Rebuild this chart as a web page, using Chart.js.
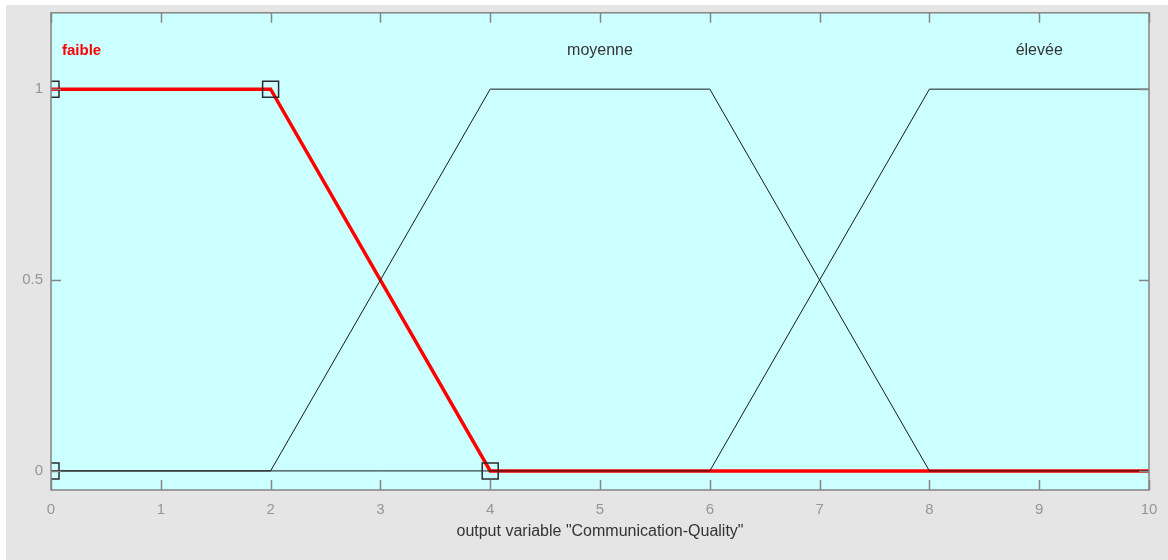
<!DOCTYPE html>
<html>
<head>
<meta charset="utf-8">
<script src="https://cdn.jsdelivr.net/npm/chart.js@4/dist/chart.umd.min.js"></script>
<style>
html,body{margin:0;padding:0;background:#fff;}
#wrap{position:absolute;left:0;top:0;width:1168px;height:560px;}
</style>
</head>
<body>
<div id="wrap"><canvas id="c" width="1168" height="560"></canvas></div>
<script>
// ---- data ----
const xTicks = [0,1,2,3,4,5,6,7,8,9,10];
const yTicks = [0,0.5,1];
const faibleX = [0,2,4,10];
const faibleY = [1,1,0,0];
const moyenneX = [0,2,4,6,8,10];
const moyenneY = [0,0,1,1,0,0];
const eleveeX = [0,6,8,10];
const eleveeY = [0,0,1,1];
const markerX = [0,0,2,4];
const markerY = [0,1,1,0];
const mfNames = ['faible','moyenne','élevée'];
const mfLabelX = [0.1,5,9];
const mfLabelY = [1.1,1.1,1.1];
const xTitle = 'output variable "Communication-Quality"';

const pts = (xs, ys) => xs.map((x,i)=>({x:x,y:ys[i]}));

const FONT = "'Liberation Sans', Arial, Helvetica, sans-serif";

const bgPlugin = {
  id:'bg',
  beforeDraw(chart){
    const ctx = chart.ctx, a = chart.chartArea;
    ctx.save();
    ctx.fillStyle = '#ffffff';
    ctx.fillRect(0,0,chart.width,chart.height);
    ctx.fillStyle = '#e5e5e5';
    ctx.fillRect(6,5,chart.width-6,chart.height-5);
    ctx.fillStyle = '#ccffff';
    ctx.fillRect(a.left,a.top,a.right-a.left,a.bottom-a.top);
    ctx.restore();
  },
  afterDraw(chart){
    const ctx = chart.ctx, a = chart.chartArea;
    const xs = chart.scales.x, ys = chart.scales.y;
    ctx.save();
    ctx.strokeStyle = '#858585';
    ctx.lineWidth = 1.5;
    ctx.beginPath();
    xTicks.forEach(v=>{
      const px = Math.round(xs.getPixelForValue(v))+0.5;
      ctx.moveTo(px,a.bottom); ctx.lineTo(px,a.bottom-10);
      ctx.moveTo(px,a.top); ctx.lineTo(px,a.top+10);
    });
    yTicks.forEach(v=>{
      const py = Math.round(ys.getPixelForValue(v))+0.5;
      ctx.moveTo(a.left,py); ctx.lineTo(a.left+10,py);
      ctx.moveTo(a.right,py); ctx.lineTo(a.right-10,py);
    });
    ctx.stroke();
    ctx.strokeRect(a.left,a.top,a.right-a.left,a.bottom-a.top);
    // mf labels
    ctx.textBaseline = 'middle';
    mfNames.forEach((n,i)=>{
      const px = xs.getPixelForValue(mfLabelX[i]);
      const py = ys.getPixelForValue(mfLabelY[i]);
      if(i===0){
        ctx.font = 'bold 15px ' + FONT;
        ctx.fillStyle = '#ff0000';
        ctx.textAlign = 'left';
      } else {
        ctx.font = '16px ' + FONT;
        ctx.fillStyle = '#333333';
        ctx.textAlign = 'center';
      }
      ctx.fillText(n,px,py);
    });
    ctx.restore();
  }
};

new Chart(document.getElementById('c'), {
  type:'line',
  data:{
    datasets:[
      {data:pts(markerX,markerY), showLine:false, pointStyle:'rect', pointRadius:11.3,
       pointBorderColor:'#2b2b2b', pointBackgroundColor:'rgba(0,0,0,0)', pointBorderWidth:1.5, clip:0},
      {data:pts(moyenneX,moyenneY), borderColor:'#1a1a1a', borderWidth:1, pointRadius:0, clip:0},
      {data:pts(eleveeX,eleveeY), borderColor:'#1a1a1a', borderWidth:1, pointRadius:0, clip:0},
      {data:pts(faibleX,faibleY), borderColor:'#ff0000', borderWidth:3.5, pointRadius:0, clip:0}
    ]
  },
  options:{
    responsive:false,
    animation:false,
    events:[],
    layout:{padding:{left:0,top:11,right:19,bottom:0}},
    plugins:{legend:{display:false},tooltip:{enabled:false}},
    elements:{line:{tension:0}},
    scales:{
      x:{type:'linear', min:0, max:10,
        afterBuildTicks(s){ s.ticks = xTicks.map(v=>({value:v})); },
        afterFit(s){ s.height = 70; s.paddingLeft = 0; s.paddingRight = 0; },
        grid:{display:false, drawTicks:false},
        border:{display:false},
        ticks:{padding:11, color:'#969696', font:{family:FONT,size:15}, maxRotation:0,
               callback:(v)=>String(v)},
        title:{display:true, text:xTitle, color:'#333333', font:{family:FONT,size:16}, padding:{top:0,bottom:19}}
      },
      y:{type:'linear', min:-0.05, max:1.2,
        afterBuildTicks(s){ s.ticks = yTicks.map(v=>({value:v})); },
        afterFit(s){ s.width = 51; s.paddingTop = 0; s.paddingBottom = 0; },
        grid:{display:false, drawTicks:false},
        border:{display:false},
        ticks:{padding:8, color:'#969696', font:{family:FONT,size:15}, callback:(v)=>String(v)}
      }
    }
  },
  plugins:[bgPlugin]
});
</script>
</body>
</html>
